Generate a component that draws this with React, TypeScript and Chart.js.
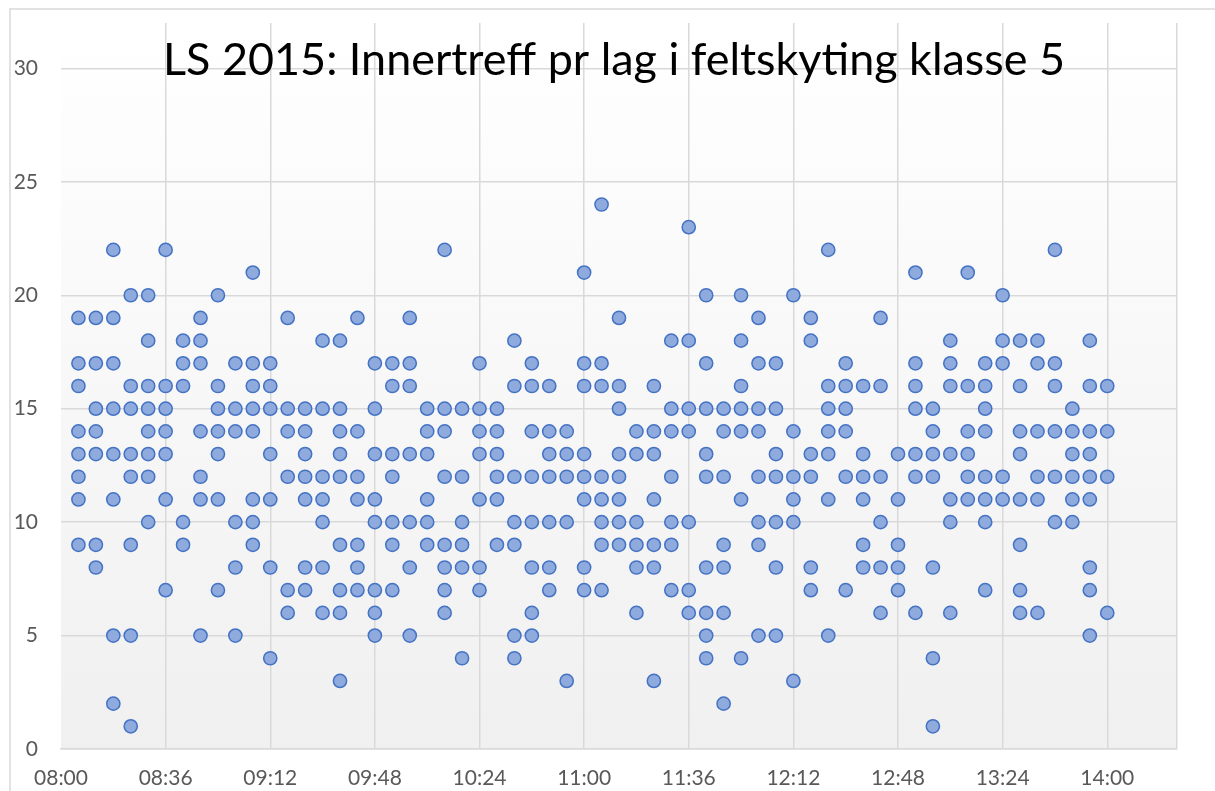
import React, { useEffect, useRef } from "react";
import { Chart, registerables } from "chart.js";

Chart.register(...registerables);

// Start time of each relay (every 6 minutes)
const times: string[] = [
  "08:06", "08:12", "08:18", "08:24", "08:30", "08:36", "08:42", "08:48", "08:54", "09:00",
  "09:06", "09:12", "09:18", "09:24", "09:30", "09:36", "09:42", "09:48", "09:54", "10:00",
  "10:06", "10:12", "10:18", "10:24", "10:30", "10:36", "10:42", "10:48", "10:54", "11:00",
  "11:06", "11:12", "11:18", "11:24", "11:30", "11:36", "11:42", "11:48", "11:54", "12:00",
  "12:06", "12:12", "12:18", "12:24", "12:30", "12:36", "12:42", "12:48", "12:54", "13:00",
  "13:06", "13:12", "13:18", "13:24", "13:30", "13:36", "13:42", "13:48", "13:54", "14:00",
];

// Inner hits per team, one list per relay start time
const hits: number[][] = [
  [19, 17, 16, 14, 13, 12, 11, 9],
  [19, 17, 15, 14, 13, 9, 8],
  [22, 19, 17, 15, 13, 11, 5, 2],
  [20, 16, 15, 13, 12, 9, 5, 1],
  [20, 18, 16, 15, 14, 13, 12, 10],
  [22, 16, 15, 14, 13, 11, 7],
  [18, 17, 16, 10, 9],
  [19, 18, 17, 14, 12, 11, 5],
  [20, 16, 15, 14, 13, 11, 7],
  [17, 15, 14, 10, 8, 5],
  [21, 17, 16, 15, 14, 11, 10, 9],
  [17, 16, 15, 13, 11, 8, 4],
  [19, 15, 14, 12, 7, 6],
  [15, 14, 13, 12, 11, 8, 7],
  [18, 15, 12, 11, 10, 8, 6],
  [18, 15, 14, 13, 12, 9, 7, 6, 3],
  [19, 14, 12, 11, 9, 8, 7],
  [17, 15, 13, 11, 10, 7, 6, 5],
  [17, 16, 13, 12, 10, 9, 7],
  [19, 17, 16, 13, 10, 8, 5],
  [15, 14, 13, 11, 10, 9],
  [22, 15, 14, 12, 9, 8, 7, 6],
  [15, 12, 10, 9, 8, 4],
  [17, 15, 14, 13, 11, 8, 7],
  [15, 14, 13, 12, 11, 9],
  [18, 16, 12, 10, 9, 5, 4],
  [17, 16, 14, 12, 10, 8, 6, 5],
  [16, 14, 13, 12, 10, 8, 7],
  [14, 13, 12, 10, 3],
  [21, 17, 16, 13, 12, 11, 8, 7],
  [24, 17, 16, 12, 11, 10, 9, 7],
  [19, 16, 15, 13, 12, 11, 10, 9],
  [14, 13, 10, 9, 8, 6],
  [16, 14, 13, 11, 9, 8, 3],
  [18, 15, 14, 12, 10, 9, 7],
  [23, 18, 15, 14, 10, 7, 6],
  [20, 17, 15, 13, 12, 8, 6, 5, 4],
  [15, 14, 12, 9, 8, 6, 2],
  [20, 18, 16, 15, 14, 11, 4],
  [19, 17, 15, 14, 12, 10, 9, 5],
  [17, 15, 13, 12, 10, 8, 5],
  [20, 14, 12, 11, 10, 3],
  [19, 18, 13, 12, 8, 7],
  [22, 16, 15, 14, 13, 11, 5],
  [17, 16, 15, 14, 12, 7],
  [16, 13, 12, 11, 9, 8],
  [19, 16, 12, 10, 8, 6],
  [13, 11, 9, 8, 7],
  [21, 17, 16, 15, 13, 12, 6],
  [15, 14, 13, 12, 8, 4, 1],
  [18, 17, 16, 13, 11, 10, 6],
  [21, 16, 14, 13, 12, 11],
  [17, 16, 15, 14, 12, 11, 10, 7],
  [20, 18, 17, 12, 11],
  [18, 16, 14, 13, 11, 9, 7, 6],
  [18, 17, 14, 12, 11, 6],
  [22, 17, 16, 14, 12, 10],
  [15, 14, 13, 12, 11, 10],
  [18, 16, 14, 13, 12, 11, 8, 7, 5],
  [16, 14, 12, 6],
];

const xTickLabels: string[] = [
  "08:00", "08:36", "09:12", "09:48", "10:24", "11:00",
  "11:36", "12:12", "12:48", "13:24", "14:00",
];
const xAxisStart = "08:00";
const xAxisEnd = "14:24";
const yTicks: number[] = [0, 5, 10, 15, 20, 25, 30];
const yAxisMax = 32;
const titleText = "LS 2015: Innertreff pr lag i feltskyting klasse 5";

const toMin = (s: string): number => {
  const [h, m] = s.split(":").map(Number);
  return h * 60 + m;
};
const fmt = (v: number): string => {
  const h = Math.floor(v / 60);
  const m = Math.round(v - h * 60);
  return `${String(h).padStart(2, "0")}:${String(m).padStart(2, "0")}`;
};

const GRID = "#d9d9d9";
const FONT = "Lato, 'Open Sans', sans-serif";

const backgroundPlugin = {
  id: "excelBackground",
  beforeDraw(chart: any) {
    const { ctx, chartArea, width, height } = chart;
    ctx.save();
    ctx.fillStyle = "#ffffff";
    ctx.fillRect(0, 0, width, height);
    // outer chart border (top/left visible)
    ctx.strokeStyle = GRID;
    ctx.lineWidth = 1.5;
    ctx.beginPath();
    ctx.moveTo(10, height + 5);
    ctx.lineTo(10, 9);
    ctx.lineTo(width + 5, 9);
    ctx.stroke();
    // plot area gradient
    const g = ctx.createLinearGradient(0, chartArea.top, 0, chartArea.bottom);
    g.addColorStop(0, "#ffffff");
    g.addColorStop(1, "#f0f0f0");
    ctx.fillStyle = g;
    ctx.fillRect(
      chartArea.left,
      chartArea.top,
      chartArea.right - chartArea.left,
      chartArea.bottom - chartArea.top
    );
    ctx.restore();
  },
};

const titlePlugin = {
  id: "overlayTitle",
  afterDraw(chart: any) {
    const { ctx } = chart;
    ctx.save();
    const base = 40;
    ctx.font = `${base}px ${FONT}`;
    const w = ctx.measureText(titleText).width;
    const size = (base * 902) / w;
    ctx.font = `${size}px ${FONT}`;
    ctx.fillStyle = "#000000";
    ctx.textAlign = "center";
    ctx.textBaseline = "alphabetic";
    ctx.fillText(titleText, 614, 75);
    ctx.restore();
  },
};

export default function App() {
  const canvasRef = useRef<HTMLCanvasElement | null>(null);

  useEffect(() => {
    if (!canvasRef.current) return;
    const points: { x: number; y: number }[] = [];
    times.forEach((t, i) => {
      hits[i].forEach((v) => points.push({ x: toMin(t), y: v }));
    });
    const xMin = toMin(xAxisStart);
    const xMax = toMin(xAxisEnd);

    const chart = new Chart(canvasRef.current, {
      type: "scatter",
      data: {
        datasets: [
          {
            data: points,
            backgroundColor: "#8faadc",
            borderColor: "#4472c4",
            borderWidth: 1.5,
            pointRadius: 6.6,
            pointHoverRadius: 6.6,
          },
        ],
      },
      options: {
        responsive: false,
        animation: false,
        events: [],
        layout: { padding: { top: 23, right: 38, left: 0, bottom: 0 } },
        plugins: {
          legend: { display: false },
          tooltip: { enabled: false },
          title: { display: false },
        },
        scales: {
          x: {
            type: "linear",
            min: xMin,
            max: xMax,
            afterBuildTicks: (scale: any) => {
              scale.ticks = [
                ...xTickLabels.map((l) => ({ value: toMin(l) })),
                { value: xMax },
              ];
            },
            afterFit: (scale: any) => {
              scale.height = 42;
              scale.paddingLeft = 0;
              scale.paddingRight = 0;
            },
            ticks: {
              autoSkip: false,
              maxRotation: 0,
              padding: 17,
              color: "#595959",
              font: { family: FONT, size: 21 },
              callback: (v: any) => (Number(v) === xMax ? "" : fmt(Number(v))),
            },
            grid: {
              drawTicks: false,
              lineWidth: 1.5,
              color: (c: any) => (c.tick && c.tick.value === xMin ? "rgba(0,0,0,0)" : GRID),
            },
            border: { display: true, color: GRID, width: 1.5 },
          },
          y: {
            min: 0,
            max: yAxisMax,
            afterBuildTicks: (scale: any) => {
              scale.ticks = yTicks.map((v) => ({ value: v }));
            },
            afterFit: (scale: any) => {
              scale.width = 61;
              scale.paddingTop = 0;
              scale.paddingBottom = 0;
            },
            ticks: {
              padding: 23,
              color: "#595959",
              font: { family: FONT, size: 21 },
            },
            grid: {
              drawTicks: false,
              lineWidth: 1.5,
              color: GRID,
            },
            border: { display: false },
          },
        },
      },
      plugins: [backgroundPlugin, titlePlugin],
    });
    return () => chart.destroy();
  }, []);

  return (
    <div
      style={{
        position: "fixed",
        left: 0,
        top: 0,
        width: 1215,
        height: 791,
        overflow: "hidden",
        background: "#ffffff",
      }}
    >
      <canvas ref={canvasRef} width={1215} height={791} style={{ display: "block" }} />
    </div>
  );
}
